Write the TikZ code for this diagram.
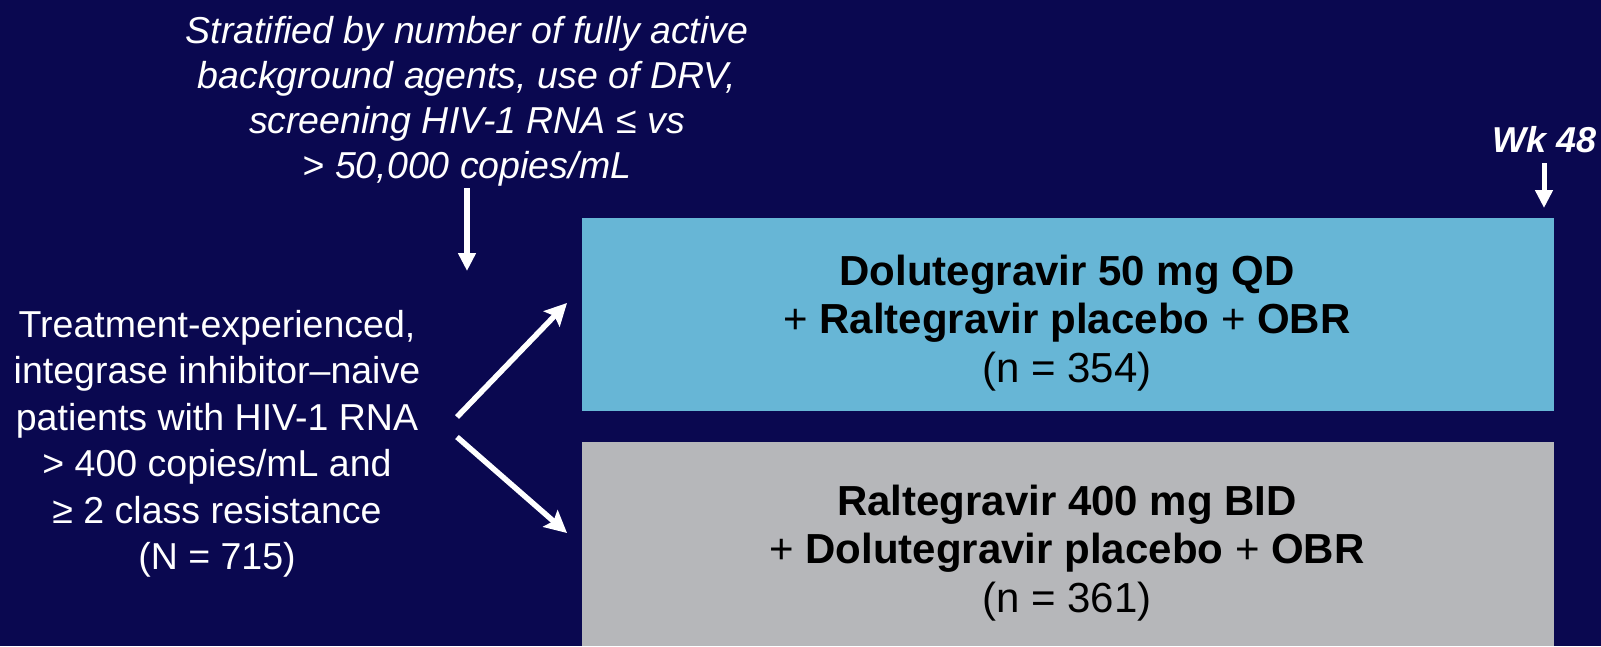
\documentclass[tikz,border=0pt]{standalone}
\usepackage{fontspec}
\setmainfont{Liberation Sans}
\usetikzlibrary{arrows.meta}
\definecolor{bgnavy}{RGB}{10,8,80}
\definecolor{armblue}{RGB}{103,182,214}
\definecolor{armgray}{RGB}{182,183,186}
\tikzset{
  whitetext/.style={text=white, align=center, inner sep=0pt, font=\fontsize{37.5}{46.5}\selectfont},
  boxtext/.style={text=black, align=center, inner sep=0pt, font=\fontsize{42}{48.5}\selectfont},
  armbox/.style={draw=none, inner sep=0pt, anchor=north west},
  bigarrow/.style={draw=white, line width=5.5pt, -{Stealth[length=22pt, width=22pt, inset=4pt]}},
  smallarrow/.style={draw=white, line width=5pt, -{Triangle[length=18pt, width=17pt]}}
}
\begin{document}
\begin{tikzpicture}[x=1pt, y=-1pt]
\fill[bgnavy] (0,0) rectangle (1601,646);
\useasboundingbox (0,0) rectangle (1601,646);
% arm boxes
\node[armbox, fill=armblue, minimum width=972pt, minimum height=193pt] (dtgbox) at (582,218) {};
\node[armbox, fill=armgray, minimum width=972pt, minimum height=204pt] (ralbox) at (582,442) {};
% box texts
\node[boxtext] (dtgtext) at (1067,323) {\textbf{Dolutegravir 50 mg QD}\\+ \textbf{Raltegravir placebo} + \textbf{OBR}\\(n = 354)};
\node[boxtext] (raltext) at (1067,553) {\textbf{Raltegravir 400 mg BID}\\+ \textbf{Dolutegravir placebo} + \textbf{OBR}\\(n = 361)};
% population
\node[whitetext] (pop) at (217,444) {Treatment-experienced,\\integrase inhibitor–naive\\patients with HIV-1 RNA\\> 400 copies/mL and\\≥ 2 class resistance\\(N = 715)};
% stratification
\node[whitetext, font=\fontsize{37.5}{45}\selectfont\itshape] (strat) at (467,101) {Stratified by number of fully active\\background agents, use of DRV,\\screening HIV-1 RNA ≤ vs\\> 50,000 copies/mL};
% week 48
\node[text=white, inner sep=0pt, font=\fontsize{36}{40}\selectfont\bfseries\itshape, anchor=east] (wk) at (1597,140) {Wk 48};
% arrow coordinates
\coordinate (stratstart) at (467,188);
\coordinate (stratend) at (467,271);
\coordinate (wkstart) at (1544,163);
\coordinate (wkend) at (1544,208);
\coordinate (upstart) at (457,417);
\coordinate (upend) at (567,303);
\coordinate (downstart) at (457,437);
\coordinate (downend) at (567,533);
\draw[smallarrow, line width=6pt] (stratstart) -- (stratend);
\draw[smallarrow] (wkstart) -- (wkend);
\draw[bigarrow] (upstart) -- (upend);
\draw[bigarrow] (downstart) -- (downend);
\end{tikzpicture}
\end{document}
